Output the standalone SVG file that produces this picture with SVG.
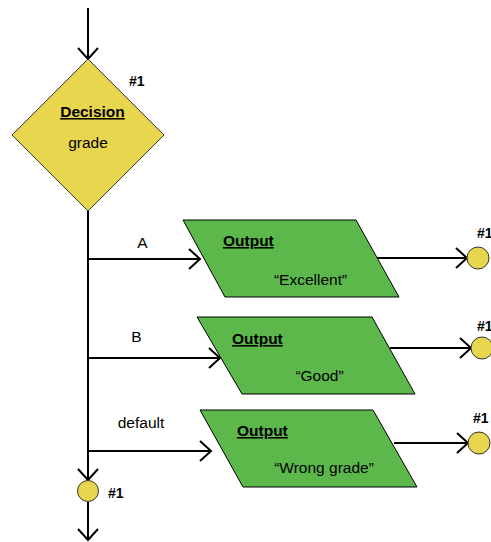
<svg xmlns="http://www.w3.org/2000/svg" width="491" height="542" viewBox="0 0 491 542">
<style>
text{font-family:"Liberation Sans",Arial,sans-serif;fill:#000}
.t{font-size:15.5px}
.b{font-size:15.5px;font-weight:bold;text-decoration:underline}
.h{font-size:14px;font-weight:bold}
.dec{fill:#E8D64E;stroke:#333;stroke-width:1}
.out{fill:#5CB84B;stroke:#000;stroke-width:1}
.con{fill:#E8D64E;stroke:#333;stroke-width:1}
.ln{fill:none;stroke:#000;stroke-width:2;marker-end:url(#arr)}
</style>
<defs>
<marker id="arr" markerUnits="userSpaceOnUse" viewBox="-13 -12 15 24" markerWidth="15" markerHeight="24" refX="0" refY="0" orient="auto">
<path d="M-11,-10 L0,0 L-11,10" fill="none" stroke="#000" stroke-width="2"/>
</marker>
</defs>
<g id="connectors">
<path class="ln" d="M88,8 V59"/>
<path class="ln" d="M88,211 V480"/>
<path class="ln" d="M88,502 V540"/>
<path class="ln" d="M88,259 H200"/>
<path class="ln" d="M88,358 H220"/>
<path class="ln" d="M88,451 H211"/>
<path class="ln" d="M374,258 H467"/>
<path class="ln" d="M390,348 H471"/>
<path class="ln" d="M394,443 H468"/>
<text class="t" x="142.5" y="248" text-anchor="middle">A</text>
<text class="t" x="136.5" y="342" text-anchor="middle">B</text>
<text class="t" x="141" y="428" text-anchor="middle">default</text>
</g>
<g id="decision">
<polygon class="dec" points="88,59 164,135 88,211 12,135"/>
<text class="b" x="92.5" y="117" text-anchor="middle">Decision</text>
<text class="t" x="88" y="148" text-anchor="middle">grade</text>
<text class="h" x="129" y="86">#1</text>
</g>
<g id="output1">
<polygon class="out" points="183,220 356,220 399,297 225,297"/>
<text class="b" x="223" y="246">Output</text>
<text class="t" x="310.5" y="285" text-anchor="middle">“Excellent”</text>
</g>
<g id="output2">
<polygon class="out" points="197,317 372,317 415,394 242,394"/>
<text class="b" x="232" y="344">Output</text>
<text class="t" x="319.5" y="381" text-anchor="middle">“Good”</text>
</g>
<g id="output3">
<polygon class="out" points="200,410 373,410 417,487 243,487"/>
<text class="b" x="237" y="436">Output</text>
<text class="t" x="324" y="473" text-anchor="middle">“Wrong grade”</text>
</g>
<g id="connector-bottom">
<circle class="con" cx="88" cy="491" r="10.5"/>
<text class="h" x="108" y="498">#1</text>
</g>
<g id="connector-1">
<circle class="con" cx="478" cy="258" r="11"/>
<text class="h" x="477" y="238">#1</text>
</g>
<g id="connector-2">
<circle class="con" cx="482" cy="348" r="11"/>
<text class="h" x="477" y="331">#1</text>
</g>
<g id="connector-3">
<circle class="con" cx="479" cy="443" r="11"/>
<text class="h" x="473" y="423">#1</text>
</g>
</svg>
